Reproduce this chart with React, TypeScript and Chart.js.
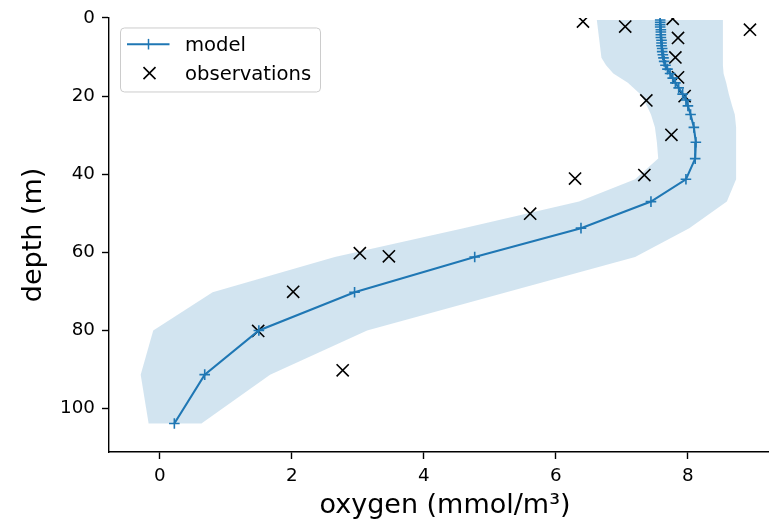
import React, { useEffect, useRef } from 'react';
import { Chart, registerables } from 'chart.js';

Chart.register(...registerables);

// ---- data ----
const modelDepth = [
  0.5, 1.1, 1.7, 2.3, 3.0, 3.6, 4.3, 5.0, 5.7, 6.4, 7.1, 7.8, 8.6, 9.4, 10.2, 11.1, 12.1, 13.1,
  14.2, 15.4, 16.6, 17.9, 19.5, 21.0, 22.5, 24.7, 28.0, 31.8, 36.0, 41.3, 47.0, 53.8, 61.2, 70.2,
  80.0, 91.3, 103.8,
];
const modelOxygen = [
  7.58, 7.58, 7.58, 7.58, 7.59, 7.59, 7.59, 7.59, 7.6, 7.6, 7.6, 7.61, 7.61, 7.62, 7.63, 7.64, 7.66,
  7.69, 7.73, 7.77, 7.81, 7.86, 7.92, 7.97, 8.0, 8.04, 8.09, 8.12, 8.11, 7.97, 7.44, 6.38, 4.77,
  2.95, 1.5, 0.68, 0.22,
];

const obsDepth = [0.9, 2.2, 0.2, 3.0, 5.1, 10.1, 15.2, 20.0, 21.1, 29.9, 40.2, 41.1, 50.1, 60.2, 61.0, 70.1, 80.1, 90.2];
const obsOxygen = [6.41, 7.05, 7.77, 8.94, 7.85, 7.81, 7.85, 7.95, 7.37, 7.75, 7.34, 6.29, 5.61, 3.03, 3.47, 2.02, 1.49, 2.77];

const bandDepth = [
  0.5, 10.2, 12.1, 14.2, 16.6, 19.5, 22.5, 24.7, 28.0, 31.8, 36.0, 41.3, 47.0, 53.8, 61.2, 70.2, 80.0,
  91.3, 103.8,
];
const bandLow = [
  6.62, 6.69, 6.76, 6.87, 7.09, 7.28, 7.38, 7.44, 7.5, 7.53, 7.55, 7.2, 6.35, 4.6, 2.65, 0.8, -0.1,
  -0.29, -0.17,
];
const bandHigh = [
  8.53, 8.53, 8.53, 8.54, 8.58, 8.62, 8.67, 8.71, 8.73, 8.73, 8.73, 8.73, 8.59, 8.02, 7.2, 5.25, 3.14,
  1.67, 0.63,
];

const xTickValues = [0, 2, 4, 6, 8];
const yTickValues = [0, 20, 40, 60, 80, 100];

const X_MIN = -0.77;
const X_MAX = 9.41;
const Y_MIN = 0;
const Y_MAX = 111.1;

const xLabel = 'oxygen (mmol/m³)';
const yLabel = 'depth (m)';
const legendLabels = ['model', 'observations'];

const FONT = "'DejaVu Sans', sans-serif";
const BLUE = '#1f77b4';

// The original axes extend slightly past the right edge of the picture.
const AXES_OVERHANG = 12;

const extendAxesPlugin = {
  id: 'extendAxes',
  afterLayout(chart: any) {
    const xs = chart.scales.x;
    xs.right = xs.right + AXES_OVERHANG;
    xs.width = xs.right - xs.left;
    xs.configure();
    chart.chartArea.right = xs.right;
    chart.chartArea.width = chart.chartArea.right - chart.chartArea.left;
  },
};

const legendPlugin = {
  id: 'mplLegend',
  afterDatasetsDraw(chart: any) {
    const { ctx, chartArea } = chart;
    const bx = chartArea.left + 11.5;
    const by = chartArea.top + 10;
    const bw = 200;
    const bh = 64;
    ctx.save();
    ctx.beginPath();
    const r = 4;
    ctx.moveTo(bx + r, by);
    ctx.lineTo(bx + bw - r, by);
    ctx.arcTo(bx + bw, by, bx + bw, by + r, r);
    ctx.lineTo(bx + bw, by + bh - r);
    ctx.arcTo(bx + bw, by + bh, bx + bw - r, by + bh, r);
    ctx.lineTo(bx + r, by + bh);
    ctx.arcTo(bx, by + bh, bx, by + bh - r, r);
    ctx.lineTo(bx, by + r);
    ctx.arcTo(bx, by, bx + r, by, r);
    ctx.closePath();
    ctx.fillStyle = 'rgba(255,255,255,0.8)';
    ctx.fill();
    ctx.strokeStyle = '#cccccc';
    ctx.lineWidth = 1;
    ctx.stroke();

    // model entry
    const y1 = by + 16.2;
    const sx = bx + 28;
    ctx.strokeStyle = BLUE;
    ctx.lineWidth = 2;
    ctx.beginPath();
    ctx.moveTo(bx + 6.5, y1);
    ctx.lineTo(bx + 49, y1);
    ctx.stroke();
    ctx.lineWidth = 1.5;
    ctx.beginPath();
    ctx.moveTo(sx, y1 - 5.3);
    ctx.lineTo(sx, y1 + 5.3);
    ctx.stroke();

    // observations entry
    const y2 = by + 45.2;
    ctx.strokeStyle = '#000';
    ctx.lineWidth = 1.6;
    ctx.beginPath();
    ctx.moveTo(sx + 1 - 6, y2 - 6);
    ctx.lineTo(sx + 1 + 6, y2 + 6);
    ctx.moveTo(sx + 1 - 6, y2 + 6);
    ctx.lineTo(sx + 1 + 6, y2 - 6);
    ctx.stroke();

    ctx.fillStyle = '#000';
    ctx.font = `19.6px ${FONT}`;
    ctx.textBaseline = 'alphabetic';
    ctx.textAlign = 'left';
    ctx.fillText(legendLabels[0], bx + 64.5, by + 23.5);
    ctx.fillText(legendLabels[1], bx + 64.5, by + 51.8);
    ctx.restore();
  },
};

export default function App() {
  const canvasRef = useRef<HTMLCanvasElement | null>(null);

  useEffect(() => {
    const canvas = canvasRef.current;
    if (!canvas) return;

    const modelData = modelDepth.map((d, i) => ({ x: modelOxygen[i], y: d }));
    const obsData = obsDepth.map((d, i) => ({ x: obsOxygen[i], y: d }));
    const bandData = [
      ...bandDepth.map((d, i) => ({ x: bandLow[i], y: d })),
      ...bandDepth.map((d, i) => ({ x: bandHigh[i], y: d })).reverse(),
    ];

    const chart = new Chart(canvas, {
      type: 'line',
      data: {
        datasets: [
          {
            label: legendLabels[0],
            data: modelData,
            borderColor: BLUE,
            borderWidth: 2.1,
            showLine: true,
            fill: false,
            pointStyle: 'cross',
            pointRadius: 5.3,
            pointBorderWidth: 1.6,
            pointBorderColor: BLUE,
            pointBackgroundColor: BLUE,
            tension: 0,
          },
          {
            label: legendLabels[1],
            data: obsData,
            showLine: false,
            fill: false,
            pointStyle: 'crossRot',
            pointRadius: 8.6,
            pointBorderWidth: 1.6,
            pointBorderColor: '#000',
            pointBackgroundColor: '#000',
          },
          {
            label: 'band',
            data: bandData,
            showLine: true,
            borderWidth: 0,
            borderColor: 'rgba(0,0,0,0)',
            backgroundColor: 'rgba(31,119,180,0.2)',
            fill: 'shape',
            pointRadius: 0,
            tension: 0,
          },
        ],
      },
      options: {
        animation: false,
        responsive: false,
        maintainAspectRatio: false,
        devicePixelRatio: 1,
        events: [],
        layout: { autoPadding: false, padding: { top: 16.5, right: 0, bottom: 0, left: 0 } },
        plugins: {
          legend: { display: false },
          tooltip: { enabled: false },
        },
        scales: {
          x: {
            type: 'linear',
            min: X_MIN,
            max: X_MAX,
            afterBuildTicks: (scale: any) => {
              scale.ticks = xTickValues.map((v) => ({ value: v }));
            },
            afterFit: (scale: any) => {
              scale.height = 69;
            },
            grid: {
              display: true,
              drawOnChartArea: false,
              drawTicks: true,
              tickLength: 7,
              tickWidth: 1.4,
              tickColor: '#000',
            },
            border: { display: true, color: '#000', width: 1.4 },
            ticks: {
              color: '#000',
              padding: 6.5,
              maxRotation: 0,
              font: { family: FONT, size: 18.3 },
              callback: (v: any) => String(v),
            },
            title: {
              display: true,
              text: xLabel,
              color: '#000',
              font: { family: FONT, size: 27, lineHeight: 1 },
              padding: { top: 0, bottom: 1.5 },
            },
          },
          y: {
            type: 'linear',
            reverse: true,
            min: Y_MIN,
            max: Y_MAX,
            afterBuildTicks: (scale: any) => {
              scale.ticks = yTickValues.map((v) => ({ value: v }));
            },
            afterFit: (scale: any) => {
              scale.width = 109;
            },
            grid: {
              display: true,
              drawOnChartArea: false,
              drawTicks: true,
              tickLength: 7,
              tickWidth: 1.4,
              tickColor: '#000',
            },
            border: { display: true, color: '#000', width: 1.4 },
            ticks: {
              color: '#000',
              padding: 7,
              font: { family: FONT, size: 18.3 },
              callback: (v: any) => String(v),
            },
            title: {
              display: true,
              text: yLabel,
              color: '#000',
              font: { family: FONT, size: 27, lineHeight: 1.2 },
              padding: { top: 18, bottom: 0 },
            },
          },
        },
      },
      plugins: [extendAxesPlugin, legendPlugin],
    });

    return () => {
      chart.destroy();
    };
  }, []);

  return (
    <div
      style={{
        position: 'fixed',
        left: 0,
        top: 0,
        width: 769,
        height: 521,
        overflow: 'hidden',
        background: '#fff',
      }}
    >
      <canvas ref={canvasRef} width={769} height={521} style={{ display: 'block', width: 769, height: 521 }} />
    </div>
  );
}
